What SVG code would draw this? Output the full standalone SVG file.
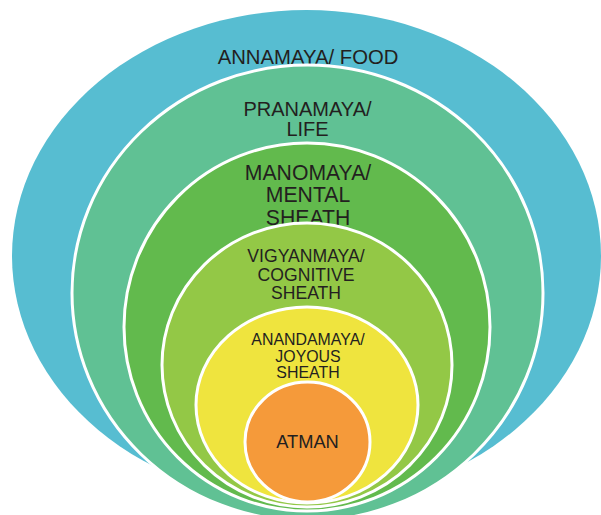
<svg xmlns="http://www.w3.org/2000/svg" width="601" height="515" viewBox="0 0 601 515">
<style>
.ring{stroke:#FFFFFF;stroke-width:3}
.lbl{font-family:"Liberation Sans",Arial,sans-serif;fill:#231F20;text-anchor:middle}
</style>
<rect width="601" height="515" fill="#FFFFFF"/>
<g id="annamaya">
<ellipse cx="306.5" cy="256" rx="294.5" ry="246" fill="#57BDD1"/>
<text class="lbl" x="308" y="64" font-size="20.3">ANNAMAYA/ FOOD</text>
</g>
<g id="pranamaya">
<ellipse class="ring" cx="307.5" cy="293" rx="235.5" ry="228" fill="#60C194"/>
<text class="lbl" x="307.5" y="116" font-size="20">PRANAMAYA/</text>
<text class="lbl" x="307.5" y="136" font-size="20">LIFE</text>
</g>
<g id="manomaya">
<ellipse class="ring" cx="307" cy="327" rx="183" ry="184" fill="#62BA4D"/>
<text class="lbl" x="308" y="179.5" font-size="21.2">MANOMAYA/</text>
<text class="lbl" x="308" y="202" font-size="21.2">MENTAL</text>
<text class="lbl" x="308" y="224.5" font-size="21.2">SHEATH</text>
</g>
<g id="vigyanmaya">
<ellipse class="ring" cx="307" cy="365" rx="145" ry="142" fill="#93C846"/>
<text class="lbl" x="306" y="261.7" font-size="17.6">VIGYANMAYA/</text>
<text class="lbl" x="306" y="280.7" font-size="17.6">COGNITIVE</text>
<text class="lbl" x="306" y="299" font-size="17.6">SHEATH</text>
</g>
<g id="anandamaya">
<ellipse class="ring" cx="307" cy="405" rx="111" ry="98" fill="#EFE43E"/>
<text class="lbl" x="308" y="345" font-size="15.9">ANANDAMAYA/</text>
<text class="lbl" x="308" y="361.7" font-size="15.9">JOYOUS</text>
<text class="lbl" x="308" y="377.7" font-size="15.9">SHEATH</text>
</g>
<g id="atman">
<ellipse class="ring" cx="307.5" cy="442" rx="62.5" ry="60" fill="#F59A3A"/>
<text class="lbl" x="307.5" y="448" font-size="18.3">ATMAN</text>
</g>
</svg>
